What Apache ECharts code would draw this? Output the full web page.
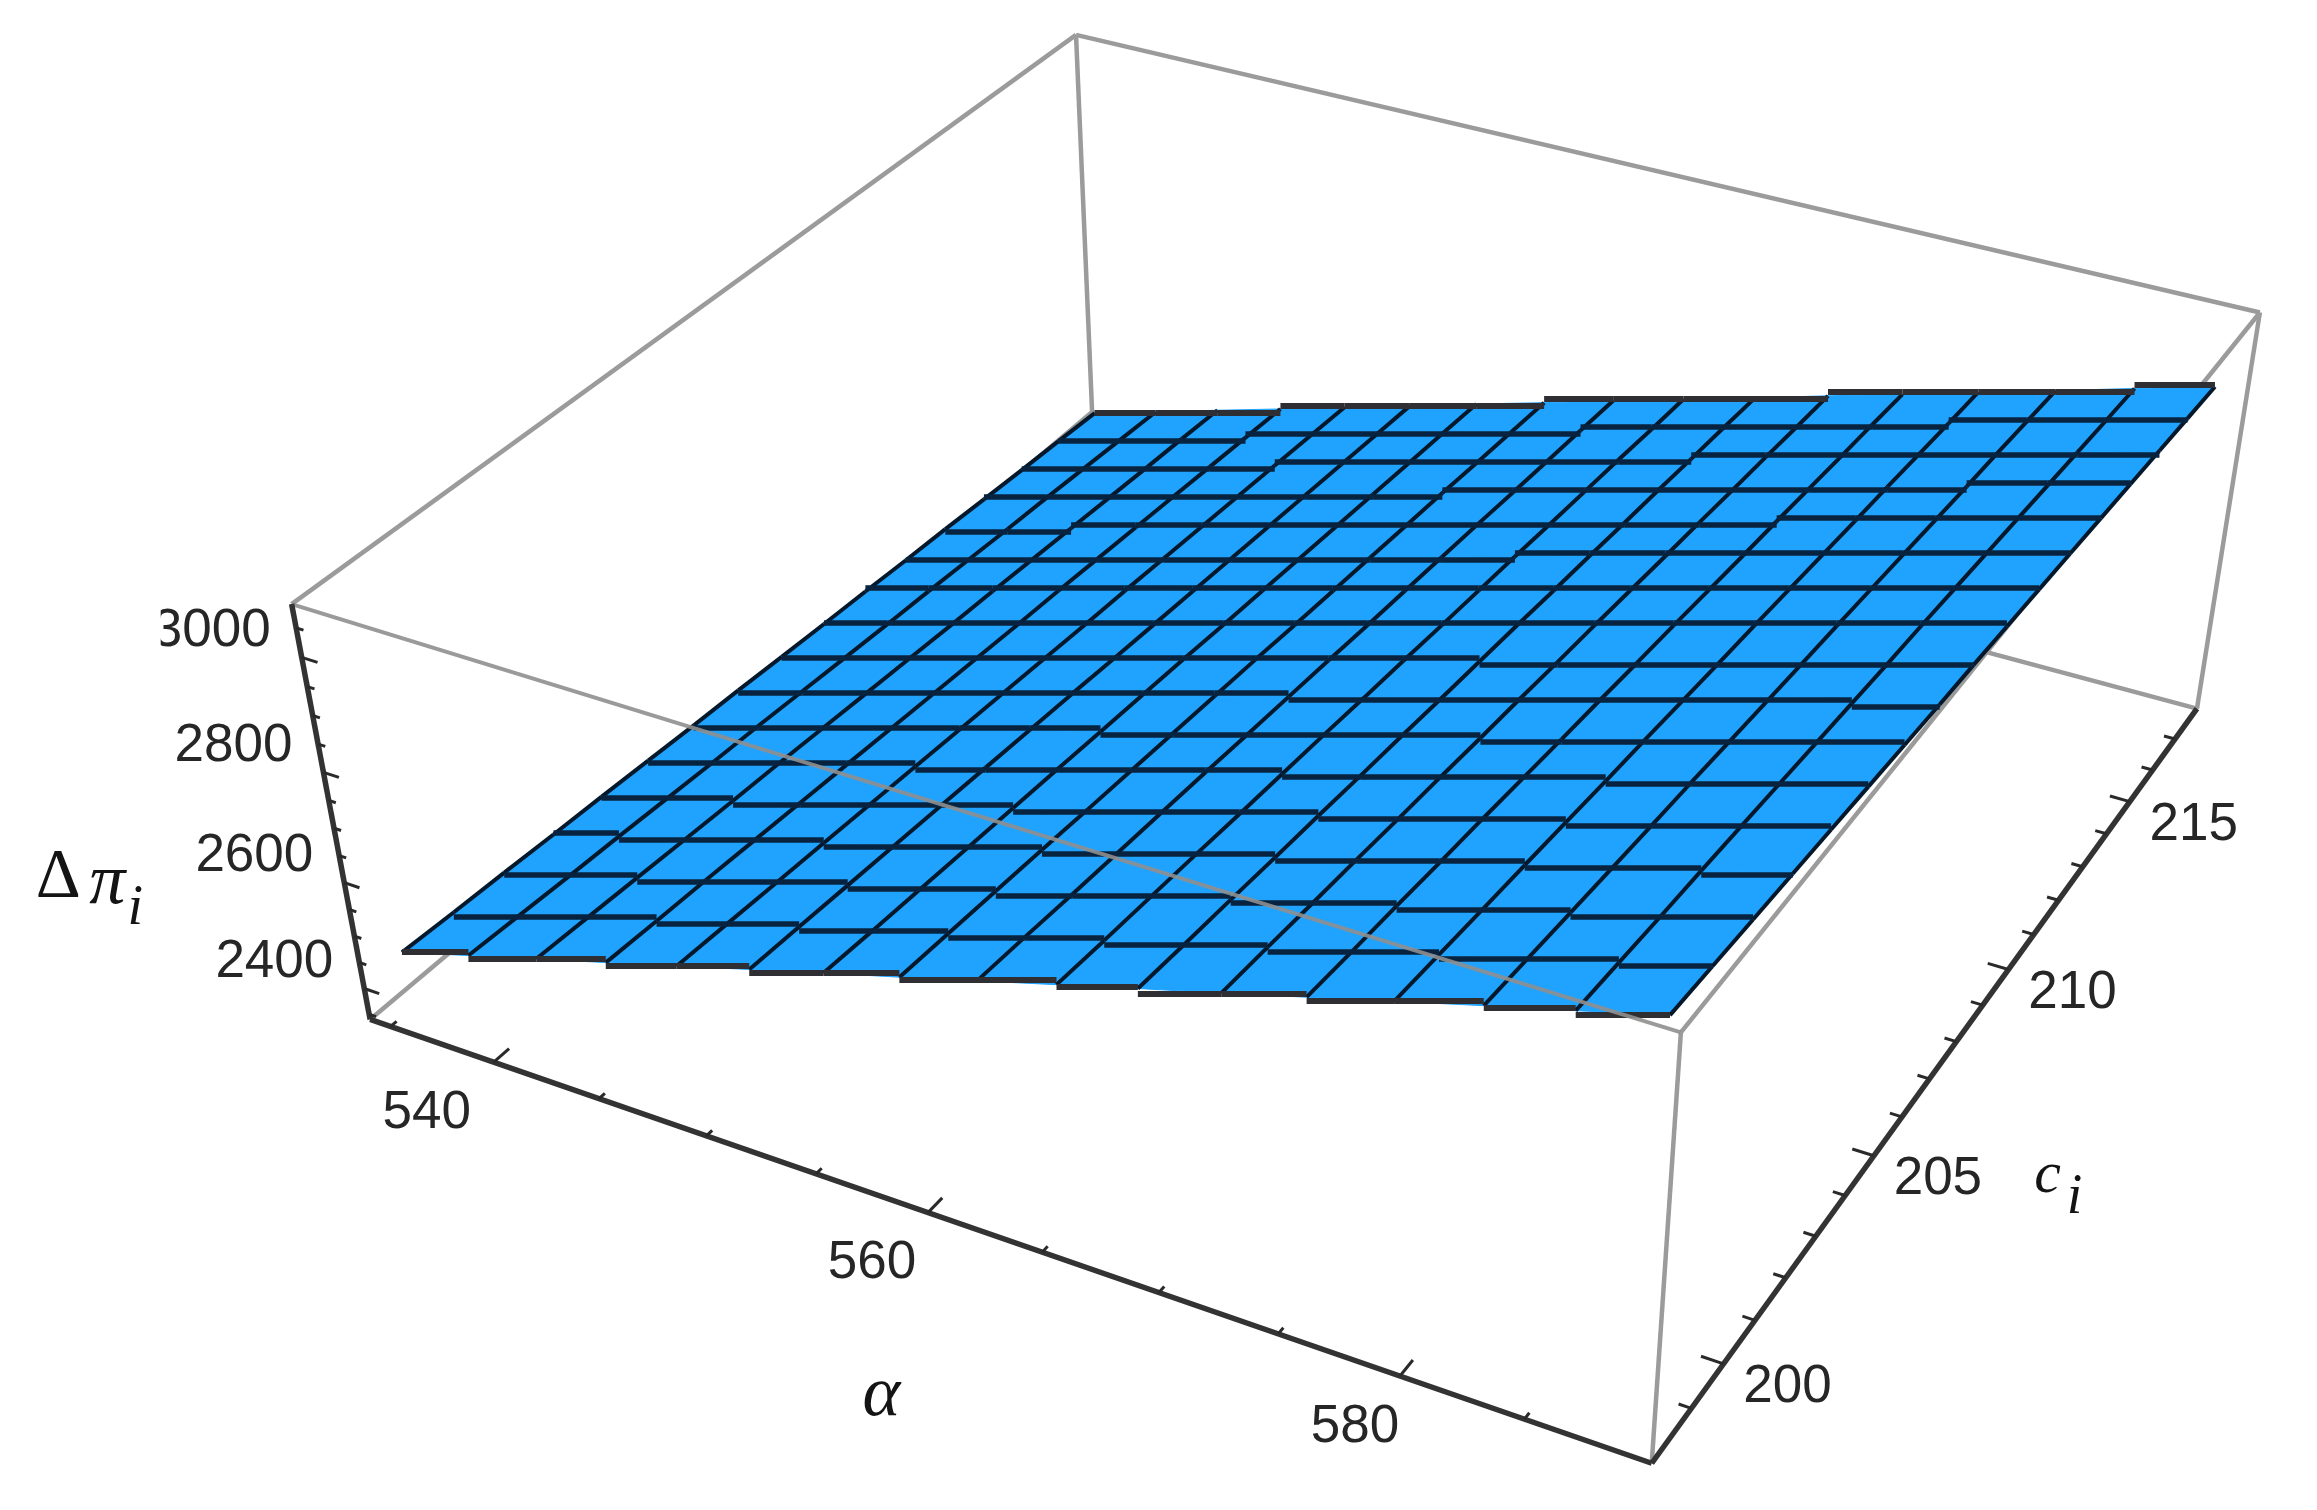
<!DOCTYPE html>
<html>
<head>
<meta charset="utf-8">
<title>Δπ surface</title>
<script src="https://cdn.jsdelivr.net/npm/echarts@6/dist/echarts.min.js"></script>
<style>
    html, body { margin: 0; background: #fff; }
    #main { width: 2317px; height: 1510px; }
</style>
</head>
<body>
<div id="main"></div>
<script>
// mesh positions of the surface
const alphaGrid = [535, 538.375, 541.75, 545.125, 548.5, 551.875, 555.25, 558.625, 562, 565.375, 568.75, 572.125, 575.5, 578.875, 582.25, 585.625, 589]
const cGrid = [198.3, 199.5, 200.7, 201.9, 203.1, 204.3, 205.5, 206.7, 207.9, 209.1, 210.3, 211.5, 212.7, 213.9, 215.1, 216.3, 217.5]

// delta pi, one row per cGrid entry, one column per alphaGrid entry
const deltaPiRows = [
    [2448, 2487, 2526, 2564, 2603, 2642, 2681, 2719, 2758, 2797, 2836, 2874, 2913, 2952, 2991, 3029, 3068],
    [2443, 2482, 2521, 2559, 2598, 2637, 2675, 2714, 2753, 2791, 2830, 2869, 2907, 2946, 2985, 3023, 3062],
    [2439, 2477, 2516, 2555, 2593, 2632, 2670, 2709, 2747, 2786, 2825, 2863, 2902, 2940, 2979, 3017, 3056],
    [2434, 2473, 2511, 2550, 2588, 2627, 2665, 2704, 2742, 2781, 2819, 2858, 2896, 2935, 2973, 3012, 3050],
    [2430, 2468, 2506, 2545, 2583, 2622, 2660, 2698, 2737, 2775, 2814, 2852, 2891, 2929, 2967, 3006, 3044],
    [2425, 2463, 2502, 2540, 2578, 2617, 2655, 2693, 2732, 2770, 2808, 2847, 2885, 2923, 2962, 3000, 3038],
    [2420, 2459, 2497, 2535, 2573, 2612, 2650, 2688, 2726, 2765, 2803, 2841, 2879, 2918, 2956, 2994, 3032],
    [2416, 2454, 2492, 2530, 2568, 2607, 2645, 2683, 2721, 2759, 2797, 2836, 2874, 2912, 2950, 2988, 3026],
    [2411, 2449, 2487, 2525, 2563, 2601, 2640, 2678, 2716, 2754, 2792, 2830, 2868, 2906, 2944, 2982, 3021],
    [2406, 2444, 2482, 2520, 2558, 2596, 2634, 2672, 2710, 2748, 2787, 2825, 2863, 2901, 2939, 2977, 3015],
    [2402, 2440, 2478, 2516, 2554, 2591, 2629, 2667, 2705, 2743, 2781, 2819, 2857, 2895, 2933, 2971, 3009],
    [2397, 2435, 2473, 2511, 2549, 2586, 2624, 2662, 2700, 2738, 2776, 2813, 2851, 2889, 2927, 2965, 3003],
    [2393, 2430, 2468, 2506, 2544, 2581, 2619, 2657, 2695, 2732, 2770, 2808, 2846, 2883, 2921, 2959, 2997],
    [2388, 2426, 2463, 2501, 2539, 2576, 2614, 2652, 2689, 2727, 2765, 2802, 2840, 2878, 2915, 2953, 2991],
    [2383, 2421, 2458, 2496, 2534, 2571, 2609, 2646, 2684, 2722, 2759, 2797, 2834, 2872, 2910, 2947, 2985],
    [2379, 2416, 2454, 2491, 2529, 2566, 2604, 2641, 2679, 2716, 2754, 2791, 2829, 2866, 2904, 2941, 2979],
    [2374, 2411, 2449, 2486, 2524, 2561, 2599, 2636, 2674, 2711, 2748, 2786, 2823, 2861, 2898, 2936, 2973]
]

// axes
const alphaLimits = [534, 590]
const cLimits = [197.8, 218]
const zLimits = [2340, 3090]
const alphaTicks = [540, 560, 580]
const alphaMinorTicks = [535, 545, 550, 555, 565, 570, 575, 585]
const cTicks = [200, 205, 210, 215]
const cMinorTicks = [199, 201, 202, 203, 204, 206, 207, 208, 209, 211, 212, 213, 214, 216, 217]
const zTicks = [2400, 2600, 2800, 3000]
const zMinorTicks = [2350, 2450, 2500, 2550, 2650, 2700, 2750, 2850, 2900, 2950, 3050]

// camera: plot cube (0..1 on each axis) to the flat picture plane
const camera = [
    [1098.67218, 956.36667, -100.42036, 370.12635],
    [281.7683, -518.95624, -460.7583, 1019.4142],
    [-0.11075, 0.21462, -0.07517, 1]
]

// the source is a blown up low-res bitmap: near flat lines sit on this pixel step
const stairStep = 7

const frac = (v, lim) => (v - lim[0]) / (lim[1] - lim[0])

const project = (alpha, c, z) => {
    const u = frac(alpha, alphaLimits), v = frac(c, cLimits), w = frac(z, zLimits)
    const row = (r) => r[0] * u + r[1] * v + r[2] * w + r[3]
    const d = row(camera[2])
    return [row(camera[0]) / d, row(camera[1]) / d]
}

const [a0, a1] = alphaLimits
const [c0, c1] = cLimits
const [z0, z1] = zLimits

// segments are flat [alpha, c, z, alpha, c, z]
const lineSeries = (name, z, segments, lineStyle, stair) => ({
    name: name,
    type: 'custom',
    z: z,
    silent: true,
    animation: false,
    progressive: 0,
    data: segments,
    renderItem: (params, api) => {
        const p = api.coord(project(api.value(0), api.value(1), api.value(2)))
        const q = api.coord(project(api.value(3), api.value(4), api.value(5)))
        if (stair) {
            p[1] = q[1] = Math.round((p[1] + q[1]) / 2 / stairStep) * stairStep
        }
        return {
            type: 'line',
            shape: { x1: p[0], y1: p[1], x2: q[0], y2: q[1] },
            style: Object.assign({ fill: null }, lineStyle)
        }
    }
})

const textSeries = (name, items, font, fill) => ({
    name: name,
    type: 'custom',
    z: 20,
    silent: true,
    animation: false,
    data: items.map((it) => it.at),
    renderItem: (params, api) => {
        const it = items[params.dataIndex]
        const p = api.coord(project(api.value(0), api.value(1), api.value(2)))
        const el = {
            type: 'text',
            x: p[0] + it.dx,
            y: p[1] + it.dy,
            style: {
                text: it.text,
                font: it.font || font,
                fill: fill,
                align: it.align || 'center',
                verticalAlign: 'middle'
            }
        }
        if (it.clip) {
            el.clipPath = { type: 'rect', shape: it.clip }
        }
        return el
    }
})

const cells = []
const alphaLines = []
const edgeLines = []
const cLines = []
cGrid.forEach((c, j) => {
    alphaGrid.forEach((a, i) => {
        const z = deltaPiRows[j][i]
        if (i < 16) {
            const seg = [a, c, z, alphaGrid[i + 1], c, deltaPiRows[j][i + 1]]
            if (j === 0 || j === 16) {
                edgeLines.push(seg)
            } else {
                alphaLines.push(seg)
            }
        }
        if (j < 16) {
            cLines.push([a, c, z, a, cGrid[j + 1], deltaPiRows[j + 1][i]])
        }
        if (i < 16 && j < 16) {
            cells.push([
                a, c, z,
                alphaGrid[i + 1], c, deltaPiRows[j][i + 1],
                alphaGrid[i + 1], cGrid[j + 1], deltaPiRows[j + 1][i + 1],
                a, cGrid[j + 1], deltaPiRows[j + 1][i]
            ])
        }
    })
})

const surfaceSeries = {
    name: 'surface',
    type: 'custom',
    z: 5,
    silent: true,
    animation: false,
    progressive: 0,
    data: cells,
    renderItem: (params, api) => {
        const points = [0, 3, 6, 9].map((k) => api.coord(project(api.value(k), api.value(k + 1), api.value(k + 2))))
        return {
            type: 'polygon',
            shape: { points: points },
            style: { fill: '#1fa3ff', stroke: '#1fa3ff', lineWidth: 1 }
        }
    }
}

const greyLine = { stroke: '#9b9b9b', lineWidth: 4.5 }
const axisLine = { stroke: '#333333', lineWidth: 5.5 }
const tickLine = { stroke: '#2a2a2a', lineWidth: 3 }

const backEdges = [
    [a0, c1, z0, a0, c1, z1],
    [a0, c1, z0, a1, c1, z0],
    [a0, c1, z0, a0, c0, z0],
    [a0, c1, z1, a0, c0, z1],
    [a0, c1, z1, a1, c1, z1],
    [a1, c1, z0, a1, c1, z1],
    [a1, c0, z0, a1, c0, z1],
    [a1, c0, z1, a1, c1, z1]
]
const frontEdges = [
    [a0, c0, z1, a1, c0, z1]
]
const axisEdges = [
    [a0, c0, z0, a1, c0, z0],
    [a1, c0, z0, a1, c1, z0],
    [a0, c0, z0, a0, c0, z1]
]

// tick length as a share of the neighbouring axis
const alphaTickSegs = (list, len) => list.map((a) => [a, c0, z0, a, c0 + len * (c1 - c0), z0])
const cTickSegs = (list, len) => list.map((c) => [a1, c, z0, a1 - len * (a1 - a0), c, z0])
const zTickSegs = (list, len) => list.map((z) => [a0, c0, z, a0 + len * (a1 - a0), c0, z])

const tickSegs = [].concat(
    alphaTickSegs(alphaTicks, 0.018), alphaTickSegs(alphaMinorTicks, 0.007),
    cTickSegs(cTicks, 0.016), cTickSegs(cMinorTicks, 0.009),
    zTickSegs(zTicks, 0.013), zTickSegs(zMinorTicks, 0.006)
)

const tickFont = '53px "Liberation Sans"'
const tickLabels = [].concat(
    alphaTicks.map((a) => ({ at: [a, c0, z0], text: String(a), dx: -67 + (a - 540) * 0.55, dy: 51 })),
    cTicks.map((c) => ({ at: [a1, c, z0], text: String(c), dx: 64, dy: 24 })),
    zTicks.map((z) => ({
        at: [a0, c0, z],
        text: String(z),
        dx: -31,
        dy: -26,
        align: 'right',
        // the 3 of 3000 is cut off by the edge of the source bitmap
        clip: z === 3000 ? { x: -110, y: -50, width: 125, height: 100 } : null
    }))
)

const serif = '"Liberation Serif"'
const titleLabels = [
    { at: [a0, c0, 2600], text: 'Δ', dx: -286, dy: -4, font: `70px ${serif}` },
    { at: [a0, c0, 2600], text: 'π', dx: -237, dy: 1, font: `italic 72px ${serif}` },
    { at: [a0, c0, 2600], text: 'i', dx: -209, dy: 27, font: `italic 56px ${serif}` },
    { at: [562, c0, z0], text: 'α', dx: -92, dy: 168, font: `italic 72px ${serif}` },
    { at: [a1, 207, z0], text: 'c', dx: 118, dy: 97, font: `italic 60px ${serif}` },
    { at: [a1, 207, z0], text: 'i', dx: 145, dy: 119, font: `italic 56px ${serif}` }
]

const chart = echarts.init(document.getElementById('main'))
chart.setOption({
    backgroundColor: '#fff',
    animation: false,
    // picture plane in pixels, hidden: the projected points go through these scales
    grid: { left: 0, right: 0, top: 0, bottom: 0 },
    xAxis: { type: 'value', min: 0, max: 2317, show: false },
    yAxis: { type: 'value', min: 0, max: 1510, inverse: true, show: false },
    series: [
        lineSeries('box back', 1, backEdges, greyLine),
        surfaceSeries,
        lineSeries('mesh c', 6, cLines, { stroke: '#04182c', lineWidth: 4 }),
        lineSeries('mesh alpha', 7, alphaLines, { stroke: '#07233f', lineWidth: 5.5 }, true),
        lineSeries('surface edge', 8, edgeLines, { stroke: '#2f2f33', lineWidth: 6 }, true),
        lineSeries('box front', 10, frontEdges, { stroke: '#8f8f8f', lineWidth: 4, opacity: 0.9 }),
        lineSeries('axes', 11, axisEdges, axisLine),
        lineSeries('ticks', 12, tickSegs, tickLine),
        textSeries('tick labels', tickLabels, tickFont, '#262626'),
        textSeries('axis titles', titleLabels, tickFont, '#141414')
    ]
})
</script>
</body>
</html>
